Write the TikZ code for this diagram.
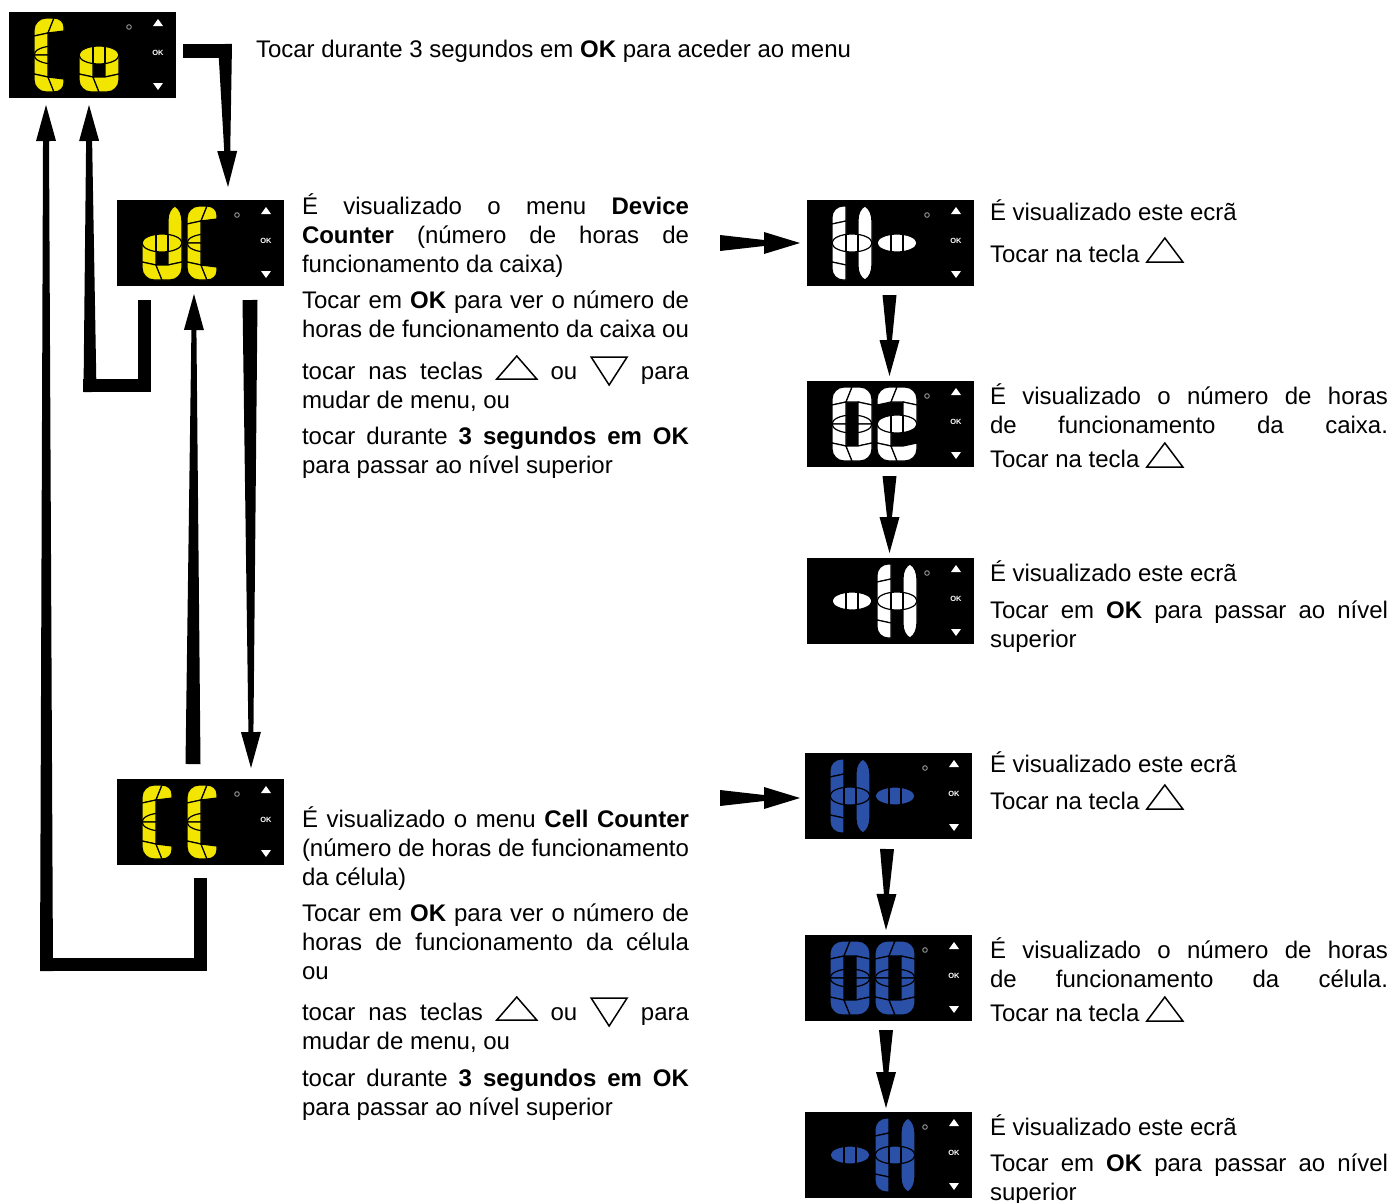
\documentclass[tikz,border=0pt]{standalone}
\usepackage{fontspec}
\setmainfont{Liberation Sans}
\usetikzlibrary{calc}

\definecolor{lcdyellow}{RGB}{242,230,0}
\definecolor{lcdblue}{RGB}{42,80,168}
\colorlet{segcol}{white}
\hbadness=10000 \hfuzz=6pt

\tikzset{
  lcdbox/.style={fill=black, minimum width=167pt, minimum height=86pt,
                 inner sep=0pt, outer sep=0pt, anchor=north west},
  seg/.style={fill=segcol, draw=black, line width=1.2pt, line join=round},
  sepline/.style={draw=black, line width=1.2pt},
  okmark/.style={text=white, font=\fontsize{7.5}{8}\selectfont\bfseries, inner sep=0pt},
  txt/.style={anchor=base west, inner sep=0pt, outer sep=0pt, font=\fontsize{24}{29}\selectfont},
  para/.style={txt, text width=387pt, align=justify},
  rpara/.style={txt, text width=398pt, align=justify},
  thickbar/.style={draw=black, line width=#1, line join=miter, line cap=butt},
}

% justified lines of the left and right text columns
\newcommand\J[1]{{\spaceskip=0pt\xspaceskip=0pt\makebox[387pt][s]{#1}}}
\newcommand\JR[1]{{\spaceskip=0pt\xspaceskip=0pt\makebox[398pt][s]{#1}}}
% outline key symbols in the running text
\newcommand\keyup{\tikz[baseline=0pt]\draw[line width=1.5pt,line join=miter] (0pt,0pt) -- (40pt,0pt) -- (20pt,23pt) -- cycle;}
\newcommand\keydown{\tikz[baseline=0pt]\draw[line width=1.5pt,line join=miter] (0pt,22pt) -- (36pt,22pt) -- (18pt,-6pt) -- cycle;}
\newcommand\keyupR{\tikz[baseline=0pt]\draw[line width=1.5pt,line join=miter] (0pt,0pt) -- (36pt,0pt) -- (18pt,24pt) -- cycle;}

% LCD segment pieces, digit cell 40 x 74
\newcommand\sgTL{\path[seg] (0,18) -- (0,12) .. controls (0,5.4) and (5.4,0) .. (12,0) -- (20,0) -- (14,15) -- cycle;}
\newcommand\sgTR{\path[seg] (20,0) -- (28,0) .. controls (34.6,0) and (40,5.4) .. (40,12) -- (40,18) -- (26,15) -- (14,15) -- cycle;}
\newcommand\sgF{\path[seg] (0,18) -- (14,15) -- (14,37) -- (0,37) -- cycle;}
\newcommand\sgB{\path[seg] (26,15) -- (40,18) -- (40,37) -- (26,37) -- cycle;}
\newcommand\sgE{\path[seg] (0,37) -- (14,37) -- (14,59) -- (0,56) -- cycle;}
\newcommand\sgC{\path[seg] (26,37) -- (40,37) -- (40,56) -- (26,59) -- cycle;}
\newcommand\sgBL{\path[seg] (0,56) -- (14,59) -- (20,74) -- (12,74) .. controls (5.4,74) and (0,68.6) .. (0,62) -- cycle;}
\newcommand\sgBR{\path[seg] (20,74) -- (14,59) -- (26,59) -- (40,56) -- (40,62) .. controls (40,68.6) and (34.6,74) .. (28,74) -- cycle;}
\newcommand\sgHT{\path[seg] (20,0) .. controls (26,0) and (30,4) .. (30,9) -- (30,13) -- (14,15) -- cycle;}
\newcommand\sgHB{\path[seg] (14,59) -- (30,61) -- (30,65) .. controls (30,70) and (26,74) .. (20,74) -- cycle;}
\newcommand\sgLT{\path[seg] (0,18) -- (0,11) .. controls (0,5) and (5,0) .. (11,0) -- (14,0) -- (14,15) -- cycle;}
\newcommand\sgLB{\path[seg] (0,56) -- (14,59) -- (14,74) -- (11,74) .. controls (5,74) and (0,69) .. (0,63) -- cycle;}
\newcommand\sgRT{\path[seg] (26,37) -- (26,14) .. controls (26,7) and (29,2) .. (33,0) .. controls (38,3) and (40,9) .. (40,16) -- (40,37) -- cycle;}
\newcommand\sgRL{\path[seg] (26,37) -- (40,37) -- (40,58) .. controls (40,65) and (38,71) .. (33,74) .. controls (29,72) and (26,67) .. (26,60) -- cycle;}
\newcommand\sgG{\path[seg] (20,37) ellipse [x radius=20, y radius=9];
  \draw[sepline] (14,28.5) -- (14,45.5) (26,28.5) -- (26,45.5);}
\newcommand\sgEye{\draw[sepline] (20,37) ellipse [x radius=20, y radius=9];}

% glyphs
\newcommand\dgZero{\sgTL\sgTR\sgF\sgB\sgE\sgC\sgBL\sgBR\sgEye}
\newcommand\dgTwo{\sgTL\sgTR\sgB\sgE\sgBL\sgBR\sgG}
\newcommand\dgCee{\sgTL\sgHT\sgF\sgE\sgBL\sgHB\sgEye}
\newcommand\dgOh{\sgE\sgC\sgBL\sgBR\sgG}
\newcommand\dgDee{\sgRT\sgE\sgC\sgBL\sgBR\sgG}
\newcommand\dgAitch{\sgLT\sgF\sgE\sgLB\sgRT\sgRL\sgG}
\newcommand\dgDash{\sgG}
\newcommand\dgat[2]{\begin{scope}[shift={(#1,6)}]#2\end{scope}}

% LCD panel: name, left, top, colour, digits
\newcommand\lcd[5]{%
  \node[lcdbox] (#1) at (#2,#3) {};
  \begin{scope}[shift={(#2,#3)}]
    \colorlet{segcol}{#4}
    \draw[gray!80, line width=0.9pt] (120,15) circle [radius=2.3];
    \fill[white] (144,14) -- (154,14) -- (149,7) -- cycle;
    \node[okmark] (#1-ok) at (149,41) {OK};
    \fill[white] (144,71) -- (154,71) -- (149,78) -- cycle;
    #5
  \end{scope}}

% tapered arrow: start, tip, half start width, half neck width, head length, half head width
\newcommand\taper[6]{%
  \coordinate (tp-hb) at ($(#2)!#5!(#1)$);
  \fill[black] ($(#1)!#3!90:(#2)$) -- ($(tp-hb)!#4!90:(#2)$) -- ($(tp-hb)!#6!90:(#2)$) -- (#2)
    -- ($(tp-hb)!#6!-90:(#2)$) -- ($(tp-hb)!#4!-90:(#2)$) -- ($(#1)!#3!-90:(#2)$) -- cycle;}

\begin{document}
\begin{tikzpicture}[x=1pt,y=-1pt]
\fill[white] (0,0) rectangle (1394,1202);
\useasboundingbox (0,0) rectangle (1394,1202);

% ---------- panels ----------
\lcd{co}{9}{12}{lcdyellow}{\dgat{25}{\dgCee}\dgat{70}{\dgOh}}
\lcd{dc}{117}{200}{lcdyellow}{\dgat{25}{\dgDee}\dgat{70}{\dgCee}}
\lcd{cc}{117}{779}{lcdyellow}{\dgat{25}{\dgCee}\dgat{70}{\dgCee}}
\lcd{h1}{807}{200}{white}{\dgat{25}{\dgAitch}\dgat{70}{\dgDash}}
\lcd{n02}{807}{381}{white}{\dgat{25}{\dgZero}\dgat{70}{\dgTwo}}
\lcd{h2}{807}{558}{white}{\dgat{25}{\dgDash}\dgat{70}{\dgAitch}}
\lcd{b1}{805}{753}{lcdblue}{\dgat{25}{\dgAitch}\dgat{70}{\dgDash}}
\lcd{b2}{805}{935}{lcdblue}{\dgat{25}{\dgZero}\dgat{70}{\dgZero}}
\lcd{b3}{805}{1112}{lcdblue}{\dgat{25}{\dgDash}\dgat{70}{\dgAitch}}

% ---------- texts ----------
\node[txt] (t-top) at (256,57) {Tocar durante 3 segundos em \textbf{OK} para aceder ao menu};

\node[para] (t-dc1) at (302,214) {\J{É visualizado o menu \textbf{Device}}\\\J{\textbf{Counter} (número de horas de}\\funcionamento da caixa)};
\node[para] (t-dc2) at (302,308) {\J{Tocar em \textbf{OK} para ver o número de}\\\J{horas de funcionamento da caixa ou}};
\node[para] (t-dc3) at (302,379) {\J{tocar nas teclas \keyup{} ou \keydown{} para}\\mudar de menu, ou};
\node[para] (t-dc4) at (302,444) {\J{tocar durante \textbf{3 segundos em OK}}\\para passar ao nível superior};

\node[para] (t-cc1) at (302,827) {\J{É visualizado o menu \textbf{Cell Counter}}\\\J{(número de horas de funcionamento}\\da célula)};
\node[para] (t-cc2) at (302,921) {\J{Tocar em \textbf{OK} para ver o número de}\\\J{horas de funcionamento da célula}\\ou};
\node[para] (t-cc3) at (302,1020) {\J{tocar nas teclas \keyup{} ou \keydown{} para}\\mudar de menu, ou};
\node[para] (t-cc4) at (302,1086) {\J{tocar durante \textbf{3 segundos em OK}}\\para passar ao nível superior};

\node[rpara] (t-h1a) at (990,220) {É visualizado este ecrã};
\node[rpara] (t-h1b) at (990,262) {Tocar na tecla \keyupR};
\node[rpara] (t-n02a) at (990,404) {\JR{É visualizado o número de horas}\\\JR{de funcionamento da caixa.}};
\node[rpara] (t-n02b) at (990,467) {Tocar na tecla \keyupR};
\node[rpara] (t-h2a) at (990,581) {É visualizado este ecrã};
\node[rpara] (t-h2b) at (990,618) {\JR{Tocar em \textbf{OK} para passar ao nível}\\superior};

\node[rpara] (t-b1a) at (990,772) {É visualizado este ecrã};
\node[rpara] (t-b1b) at (990,809) {Tocar na tecla \keyupR};
\node[rpara] (t-b2a) at (990,958) {\JR{É visualizado o número de horas}\\\JR{de funcionamento da célula.}};
\node[rpara] (t-b2b) at (990,1021) {Tocar na tecla \keyupR};
\node[rpara] (t-b3a) at (990,1135) {É visualizado este ecrã};
\node[rpara] (t-b3b) at (990,1171) {\JR{Tocar em \textbf{OK} para passar ao nível}\\superior};

% ---------- connectors ----------
% Co -> dC
\draw[thickbar=14pt] ($(co.north east)+(7,39)$) -- ($(co.north east)+(56,39)$);
\coordinate (a1s) at ($(co.north east)+(49,32)$);
\coordinate (a1t) at ($(dc.north west)+(111,-13)$);
\taper{a1s}{a1t}{7pt}{3pt}{36pt}{10pt}

% dC -> Co
\draw[thickbar=13pt] ($(dc.south west)+(27,14)$) -- ($(dc.south west)+(27,99.5)$) -- ($(dc.south west)+(-34,99.5)$);
\coordinate (a2s) at ($(dc.south west)+(-27,106)$);
\coordinate (a2t) at ($(co.south west)+(80,7)$);
\taper{a2s}{a2t}{6.5pt}{3pt}{36pt}{10pt}

% CC -> Co
\draw[thickbar=13pt] ($(cc.south west)+(83,13)$) -- ($(cc.south west)+(83,99.5)$) -- ($(cc.south west)+(-77,99.5)$);
\coordinate (a3s) at ($(cc.south west)+(-70.5,106)$);
\coordinate (a3t) at ($(co.south west)+(37,7)$);
\taper{a3s}{a3t}{6.5pt}{3pt}{36pt}{10pt}

% dC -> CC and CC -> dC
\coordinate (a4s) at ($(dc.south west)+(133,14)$);
\coordinate (a4t) at ($(cc.north west)+(134,-11)$);
\taper{a4s}{a4t}{7.5pt}{2.5pt}{36pt}{10pt}
\coordinate (a5s) at ($(cc.north west)+(76,-15)$);
\coordinate (a5t) at ($(dc.south west)+(77,8)$);
\taper{a5s}{a5t}{7.5pt}{2.5pt}{36pt}{10pt}

% menu -> first screens
\coordinate (a6s) at ($(h1.west)+(-87,0)$);
\coordinate (a6t) at ($(h1.west)+(-7,0)$);
\taper{a6s}{a6t}{8pt}{3pt}{36pt}{11pt}
\coordinate (a7s) at ($(b1.west)+(-85,2)$);
\coordinate (a7t) at ($(b1.west)+(-5,2)$);
\taper{a7s}{a7t}{8pt}{3pt}{36pt}{11pt}

% screen sequences
\coordinate (a8s) at ($(h1.south)+(-1,9)$);
\coordinate (a8t) at ($(n02.north)+(-1,-5)$);
\taper{a8s}{a8t}{7pt}{2.5pt}{36pt}{10pt}
\coordinate (a9s) at ($(n02.south)+(-1,9)$);
\coordinate (a9t) at ($(h2.north)+(-1,-5)$);
\taper{a9s}{a9t}{7pt}{2.5pt}{36pt}{10pt}
\coordinate (a10s) at ($(b1.south)+(-1.5,10)$);
\coordinate (a10t) at ($(b2.north)+(-2.5,-5)$);
\taper{a10s}{a10t}{7pt}{2.5pt}{36pt}{10pt}
\coordinate (a11s) at ($(b2.south)+(-2.5,9)$);
\coordinate (a11t) at ($(b3.north)+(-2.5,-4)$);
\taper{a11s}{a11t}{7pt}{2.5pt}{36pt}{10pt}
\end{tikzpicture}
\end{document}
